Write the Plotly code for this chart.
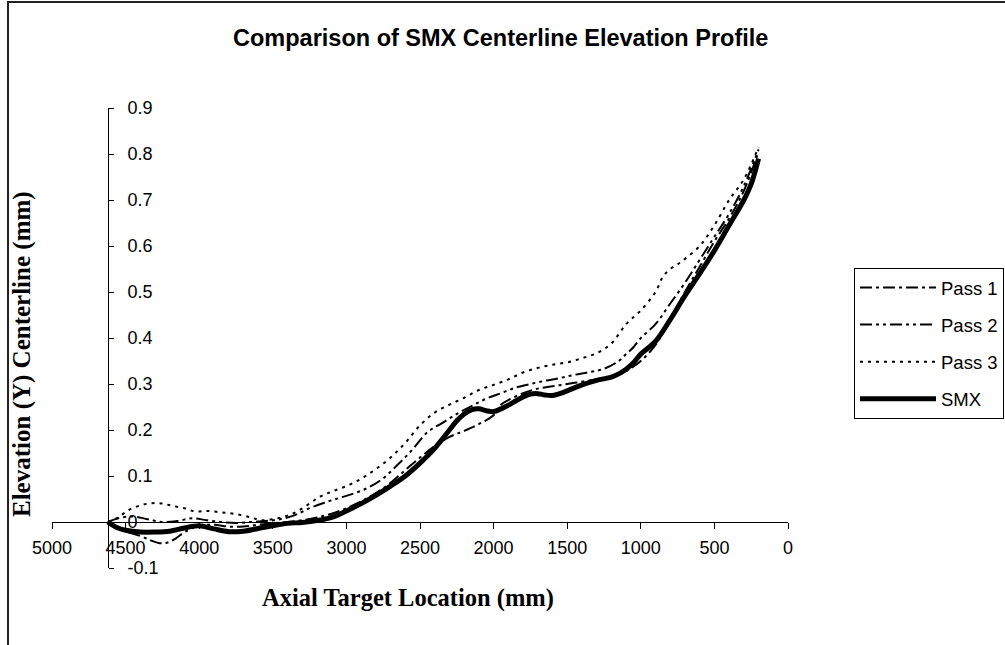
import plotly.graph_objects as go

# ---------------- data ----------------
smx_x = [4620, 4560, 4500, 4400, 4300, 4200, 4100, 4000, 3900, 3800, 3700, 3600, 3500, 3400, 3300,
         3200, 3100, 3000, 2900, 2800, 2700, 2600, 2500, 2400, 2300, 2250, 2200, 2150, 2100, 2050,
         2000, 1950, 1900, 1850, 1800, 1750, 1700, 1650, 1600, 1550, 1500, 1400, 1300, 1200, 1150,
         1100, 1050, 1000, 900, 800, 700, 600, 500, 400, 300, 250, 200]
smx_y = [0, -0.012, -0.018, -0.022, -0.022, -0.02, -0.013, -0.008, -0.015, -0.021, -0.02, -0.014,
         -0.008, -0.003, -0.001, 0.003, 0.01, 0.024, 0.04, 0.058, 0.078, 0.1, 0.128, 0.16, 0.2, 0.22,
         0.235, 0.244, 0.246, 0.242, 0.24, 0.246, 0.254, 0.263, 0.272, 0.278, 0.279, 0.276, 0.275,
         0.279, 0.285, 0.298, 0.308, 0.315, 0.322, 0.332, 0.346, 0.365, 0.393, 0.44, 0.492, 0.54,
         0.59, 0.645, 0.7, 0.735, 0.79]

pass1_x = [4620, 4560, 4500, 4400, 4330, 4270, 4220, 4160, 4100, 4000, 3900, 3800, 3700, 3600, 3500,
           3400, 3300, 3200, 3100, 3000, 2900, 2800, 2700, 2600, 2500, 2400, 2300, 2200, 2100, 2000,
           1950, 1900, 1800, 1700, 1600, 1500, 1400, 1300, 1200, 1100, 1000, 900, 800, 700, 600,
           500, 400, 300, 200]
pass1_y = [0, -0.01, -0.02, -0.03, -0.04, -0.046, -0.045, -0.036, -0.022, -0.008, -0.006, -0.01,
           -0.01, -0.006, -0.003, 0, 0.004, 0.01, 0.018, 0.03, 0.045, 0.063, 0.085, 0.113, 0.14,
           0.165, 0.185, 0.198, 0.213, 0.232, 0.255, 0.265, 0.28, 0.29, 0.295, 0.3, 0.305, 0.31,
           0.315, 0.328, 0.35, 0.385, 0.44, 0.5, 0.555, 0.61, 0.66, 0.72, 0.805]

pass2_x = [4620, 4550, 4450, 4350, 4250, 4150, 4050, 3950, 3850, 3750, 3650, 3550, 3450, 3350, 3250,
           3150, 3050, 2950, 2850, 2750, 2650, 2550, 2450, 2350, 2250, 2150, 2050, 1950, 1850, 1750,
           1650, 1550, 1450, 1350, 1250, 1150, 1100, 1050, 1000, 900, 800, 700, 600, 500, 400, 300, 200]
pass2_y = [0, 0.008, 0.012, 0.006, 0.0, 0.002, 0.008, 0.004, 0.0, -0.002, 0, 0.002, 0.006, 0.015,
           0.03, 0.042, 0.052, 0.062, 0.075, 0.095, 0.125, 0.158, 0.195, 0.215, 0.235, 0.252, 0.268,
           0.28, 0.292, 0.3, 0.307, 0.313, 0.32, 0.326, 0.333, 0.35, 0.365, 0.38, 0.4, 0.43, 0.475,
           0.52, 0.57, 0.62, 0.67, 0.73, 0.81]

pass3_x = [4620, 4550, 4480, 4400, 4320, 4250, 4180, 4100, 4030, 3950, 3850, 3750, 3650, 3580, 3500,
           3420, 3340, 3260, 3180, 3100, 3000, 2900, 2800, 2700, 2600, 2500, 2400, 2300, 2200, 2100,
           2000, 1900, 1800, 1700, 1600, 1500, 1400, 1300, 1200, 1100, 1000, 900, 850, 800, 750,
           700, 600, 500, 400, 300, 200]
pass3_y = [0, 0.01, 0.026, 0.036, 0.041, 0.04, 0.035, 0.03, 0.023, 0.024, 0.021, 0.017, 0.01, 0.004,
           0.006, 0.012, 0.022, 0.038, 0.055, 0.066, 0.078, 0.094, 0.115, 0.14, 0.172, 0.21, 0.238,
           0.255, 0.27, 0.287, 0.298, 0.31, 0.325, 0.335, 0.342, 0.347, 0.356, 0.367, 0.388, 0.43,
           0.46, 0.5, 0.533, 0.55, 0.56, 0.572, 0.6, 0.645, 0.7, 0.745, 0.815]

x_ticks = [5000, 4500, 4000, 3500, 3000, 2500, 2000, 1500, 1000, 500, 0]
x_ticktext = ["5000", "4500", "4000", "3500", "3000", "2500", "2000", "1500", "1000", "500", "0"]
y_ticks = [-0.1, 0, 0.1, 0.2, 0.3, 0.4, 0.5, 0.6, 0.7, 0.8, 0.9]
y_ticktext = ["-0.1", "0", "0.1", "0.2", "0.3", "0.4", "0.5", "0.6", "0.7", "0.8", "0.9"]
y_axis_cross = 4620

title_text = "Comparison of SMX Centerline Elevation Profile"
x_title = "Axial Target Location (mm)"
y_title = "Elevation (Y) Centerline (mm)"

# ---------------- figure ----------------
W, H = 1005, 645
L, R, T, B = 52, 217, 108, 77
pw, ph = W - L - R, H - T - B

def px_x(p):
    return (p - L) / pw

def px_y(p):
    return (H - B - p) / ph

sans = "Liberation Sans, Arial, sans-serif"
serif = "Liberation Serif, Times New Roman, serif"

fig = go.Figure()
series = [
    ("Pass 1", pass1_x, pass1_y, dict(color="black", width=2, dash="12px,4px,3px,4px")),
    ("Pass 2", pass2_x, pass2_y, dict(color="black", width=2, dash="12px,4px,3px,4px,3px,4px")),
    ("Pass 3", pass3_x, pass3_y, dict(color="black", width=2, dash="3px,5px")),
    ("SMX", smx_x, smx_y, dict(color="black", width=5)),
]
for name, xs, ys, ln in series:
    fig.add_trace(go.Scatter(x=xs, y=ys, mode="lines", name=name, line=ln,
                             legendgroup=name, line_shape="spline"))

fig.update_layout(
    width=W, height=H,
    margin=dict(l=L, r=R, t=T, b=B, autoexpand=False),
    paper_bgcolor="white", plot_bgcolor="white",
    showlegend=True,
    legend=dict(xref="container", yref="container", x=854 / W, y=1 - 268 / H,
                xanchor="left", yanchor="top",
                bordercolor="black", borderwidth=1, bgcolor="white",
                font=dict(family=sans, size=18.5, color="black"),
                tracegroupgap=10, traceorder="grouped", itemwidth=76),
    xaxis=dict(range=[5000, 0], tickvals=x_ticks, ticktext=x_ticktext,
               showgrid=False, zeroline=False, showline=True, linecolor="black", linewidth=1,
               ticks="outside", ticklen=6, tickcolor="black",
               anchor="free", position=0.1, ticklabelstandoff=3,
               tickfont=dict(family=sans, size=18, color="black")),
    yaxis=dict(range=[-0.1, 0.9], tickvals=y_ticks, ticktext=y_ticktext,
               showgrid=False, zeroline=False, showline=True, linecolor="black", linewidth=1,
               ticks="outside", ticklen=5, tickcolor="black", side="right",
               anchor="free", position=(5000 - y_axis_cross) / 5000, ticklabelstandoff=10,
               tickfont=dict(family=sans, size=18, color="black")),
    annotations=[
        dict(text="<b>" + title_text + "</b>", xref="paper", yref="paper",
             x=px_x(500), y=px_y(38), showarrow=False, xanchor="center", yanchor="middle",
             font=dict(family=sans, size=23.5, color="black")),
        dict(text="<b>" + x_title + "</b>", xref="paper", yref="paper",
             x=px_x(408), y=px_y(598), showarrow=False, xanchor="center", yanchor="middle",
             font=dict(family=serif, size=24.5, color="black")),
        dict(text="<b>" + y_title + "</b>", xref="paper", yref="paper",
             x=px_x(22), y=px_y(354), showarrow=False, xanchor="center", yanchor="middle",
             textangle=-90, font=dict(family=serif, size=25, color="black")),
    ],
    shapes=[
        dict(type="rect", xref="paper", yref="paper",
             x0=px_x(8), x1=px_x(1030), y0=px_y(670), y1=px_y(2),
             line=dict(color="#222222", width=2), fillcolor="rgba(0,0,0,0)", layer="below"),
    ],
)

fig.write_html("out.html", config={"displayModeBar": False},
               post_script="document.body.style.margin='0';document.body.style.overflow='hidden';")
